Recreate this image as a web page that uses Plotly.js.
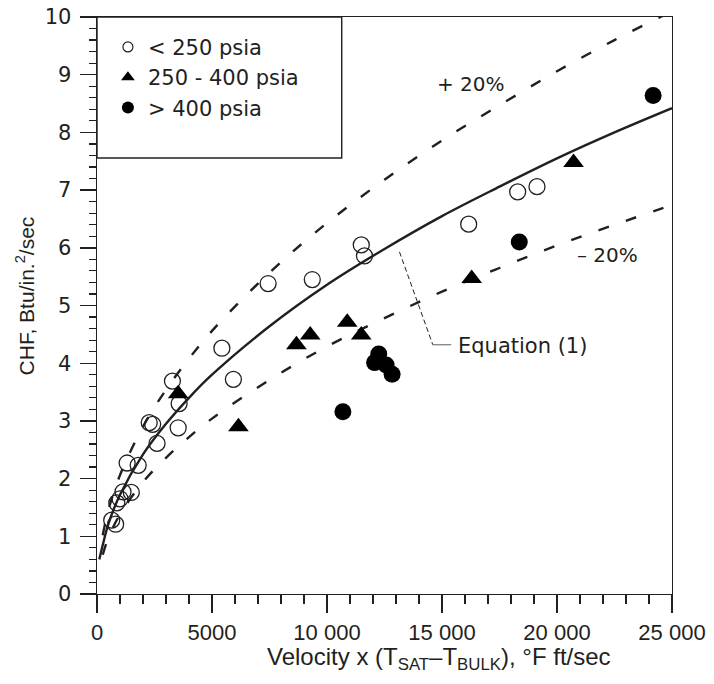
<!DOCTYPE html>
<html>
<head>
<meta charset="utf-8">
<script src="https://cdn.plot.ly/plotly-3.0.1.min.js"></script>
<style>html,body{margin:0;padding:0;background:#fff;}#chart{width:714px;height:684px;}</style>
</head>
<body>
<div id="chart"></div>
<script>
// < 250 psia (open circles)
const lowX = [640, 810, 860, 1000, 1130, 1490, 1310, 1790, 2270, 2420, 2610, 3280, 3570, 3530, 5430, 5930, 7440, 9360, 11490, 11630, 16160, 18290, 19130];
const lowY = [1.28, 1.21, 1.58, 1.65, 1.77, 1.76, 2.27, 2.23, 2.97, 2.94, 2.61, 3.69, 3.30, 2.88, 4.26, 3.72, 5.38, 5.45, 6.05, 5.86, 6.41, 6.97, 7.06];
// 250 - 400 psia (triangles)
const midX = [3530, 6150, 8670, 9270, 10880, 11490, 16290, 20720];
const midY = [3.47, 2.90, 4.32, 4.49, 4.71, 4.49, 5.47, 7.48];
// > 400 psia (filled circles)
const highX = [10690, 12070, 12250, 12570, 12830, 18360, 24180];
const highY = [3.16, 4.01, 4.16, 3.97, 3.81, 6.10, 8.64];
// Equation (1) and +/-20% bands
const eqX = [100, 250, 500, 1000, 2000, 3000, 4000, 5000, 7500, 10000, 12500, 15000, 17500, 20000, 22500, 25000];
const eqY = [0.60, 0.85, 1.22, 1.72, 2.42, 2.95, 3.40, 3.80, 4.64, 5.36, 5.98, 6.55, 7.06, 7.55, 8.00, 8.42];
const bandX = [250, 500, 1000, 2000, 3000, 4000, 5000, 7500, 10000, 12500, 15000, 17500, 20000, 22500, 25000];
const upperY = [1.02, 1.46, 2.06, 2.90, 3.54, 4.08, 4.56, 5.57, 6.43, 7.18, 7.86, 8.47, 9.06, 9.60, 10.10];
const lowerY = [0.68, 0.98, 1.38, 1.94, 2.36, 2.72, 3.04, 3.71, 4.29, 4.78, 5.24, 5.65, 6.04, 6.40, 6.74];
const xTickVals = [0, 5000, 10000, 15000, 20000, 25000];
const xTickText = ['0', '5000', '10 000', '15 000', '20 000', '25 000'];
const yTickVals = [0,1,2,3,4,5,6,7,8,9,10];
const legendNames = ['< 250 psia', '250 - 400 psia', '> 400 psia'];

const ink = '#231f20';
const SANS = 'Liberation Sans, Arial, sans-serif';
const HUM = 'DejaVu Sans, sans-serif';

const traces = [
  {x: bandX, y: upperY, mode: 'lines', line: {color: ink, width: 2.4, dash: '11px,18px', shape: 'spline'}, showlegend: false, hoverinfo: 'skip'},
  {x: bandX, y: lowerY, mode: 'lines', line: {color: ink, width: 2.4, dash: '11px,18px', shape: 'spline'}, showlegend: false, hoverinfo: 'skip'},
  {x: eqX, y: eqY, mode: 'lines', line: {color: ink, width: 2.4, shape: 'spline'}, showlegend: false, hoverinfo: 'skip'},
  {x: lowX, y: lowY, mode: 'markers', marker: {symbol: 'circle-open', size: 16, color: ink, line: {width: 1.3, color: ink}}, showlegend: false},
  {x: midX, y: midY, mode: 'markers', marker: {symbol: 'triangle-up', size: 18, color: '#000'}, showlegend: false},
  {x: highX, y: highY, mode: 'markers', marker: {symbol: 'circle', size: 17, color: '#000'}, showlegend: false},
  // legend-only entries
  {x: [null], y: [null], mode: 'markers', name: legendNames[0], marker: {symbol: 'circle-open', size: 10, color: ink, line: {width: 1.2, color: ink}}},
  {x: [null], y: [null], mode: 'markers', name: legendNames[1], marker: {symbol: 'triangle-up', size: 12, color: '#000'}},
  {x: [null], y: [null], mode: 'markers', name: legendNames[2], marker: {symbol: 'circle', size: 12, color: '#000'}}
];

const layout = {
  width: 714, height: 684,
  margin: {l: 97, r: 42, t: 17, b: 90},
  paper_bgcolor: '#fff', plot_bgcolor: '#fff',
  font: {family: SANS, size: 20, color: ink},
  showlegend: true,
  legend: {x: 0.019, y: 0.983, xanchor: 'left', yanchor: 'top', bgcolor: 'rgba(0,0,0,0)', borderwidth: 0,
           font: {family: HUM, size: 21, color: ink}, tracegroupgap: 0, itemwidth: 30},
  xaxis: {
    range: [0, 25000], tickmode: 'array', tickvals: xTickVals, ticktext: xTickText,
    ticks: 'outside', ticklen: 18, tickwidth: 1.4, tickcolor: ink,
    showline: true, linecolor: ink, linewidth: 1.4, mirror: true,
    showgrid: false, zeroline: false,
    tickfont: {family: SANS, size: 22, color: ink},
    minor: {tickmode: 'linear', tick0: 0, dtick: 1000, ticks: 'outside', ticklen: 9, tickwidth: 1.2, tickcolor: ink, showgrid: false}
  },
  yaxis: {
    range: [0, 10], tickmode: 'array', tickvals: yTickVals,
    ticks: 'outside', ticklen: 16, tickwidth: 1.4, tickcolor: ink,
    showline: true, linecolor: ink, linewidth: 1.4, mirror: true,
    showgrid: false, zeroline: false, ticklabelstandoff: 4,
    tickfont: {family: HUM, size: 21, color: ink},
    minor: {tickmode: 'linear', tick0: 0, dtick: 0.2, ticks: 'outside', ticklen: 7, tickwidth: 1.2, tickcolor: ink, showgrid: false}
  },
  shapes: [
    {type: 'rect', xref: 'paper', yref: 'paper', x0: 0, x1: 0.4256, y0: 0.7556, y1: 1, line: {color: ink, width: 1.4}, fillcolor: 'rgba(0,0,0,0)'},
    {type: 'line', xref: 'x', yref: 'y', x0: 13150, y0: 5.93, x1: 14600, y1: 4.32, line: {color: ink, width: 1, dash: '5px,3px'}},
    {type: 'line', xref: 'x', yref: 'y', x0: 14600, y0: 4.32, x1: 15400, y1: 4.32, line: {color: '#777', width: 1.2}}
  ],
  annotations: [
    {x: 0.595, y: -0.112, xref: 'paper', yref: 'paper', text: 'Velocity x (T<sub>SAT</sub>\u2013T<sub>BULK</sub>), \u00b0F ft/sec', showarrow: false, xanchor: 'center', yanchor: 'middle', font: {family: SANS, size: 24, color: ink}},
    {x: -0.125, y: 0.516, xref: 'paper', yref: 'paper', text: 'CHF, Btu/in.<sup>2</sup>/sec', textangle: -90, showarrow: false, xanchor: 'center', yanchor: 'middle', font: {family: SANS, size: 21, color: ink}},
    {x: 14700, y: 8.84, xref: 'x', yref: 'y', text: '+ 20%', showarrow: false, xanchor: 'left', yanchor: 'middle', font: {family: HUM, size: 20, color: ink}},
    {x: 20800, y: 5.88, xref: 'x', yref: 'y', text: '\u2013 20%', showarrow: false, xanchor: 'left', yanchor: 'middle', font: {family: HUM, size: 20, color: ink}},
    {x: 15600, y: 4.30, xref: 'x', yref: 'y', text: 'Equation (1)', showarrow: false, xanchor: 'left', yanchor: 'middle', font: {family: HUM, size: 21, color: ink}}
  ]
};

Plotly.newPlot('chart', traces, layout, {displayModeBar: false, staticPlot: true});
</script>
</body>
</html>
